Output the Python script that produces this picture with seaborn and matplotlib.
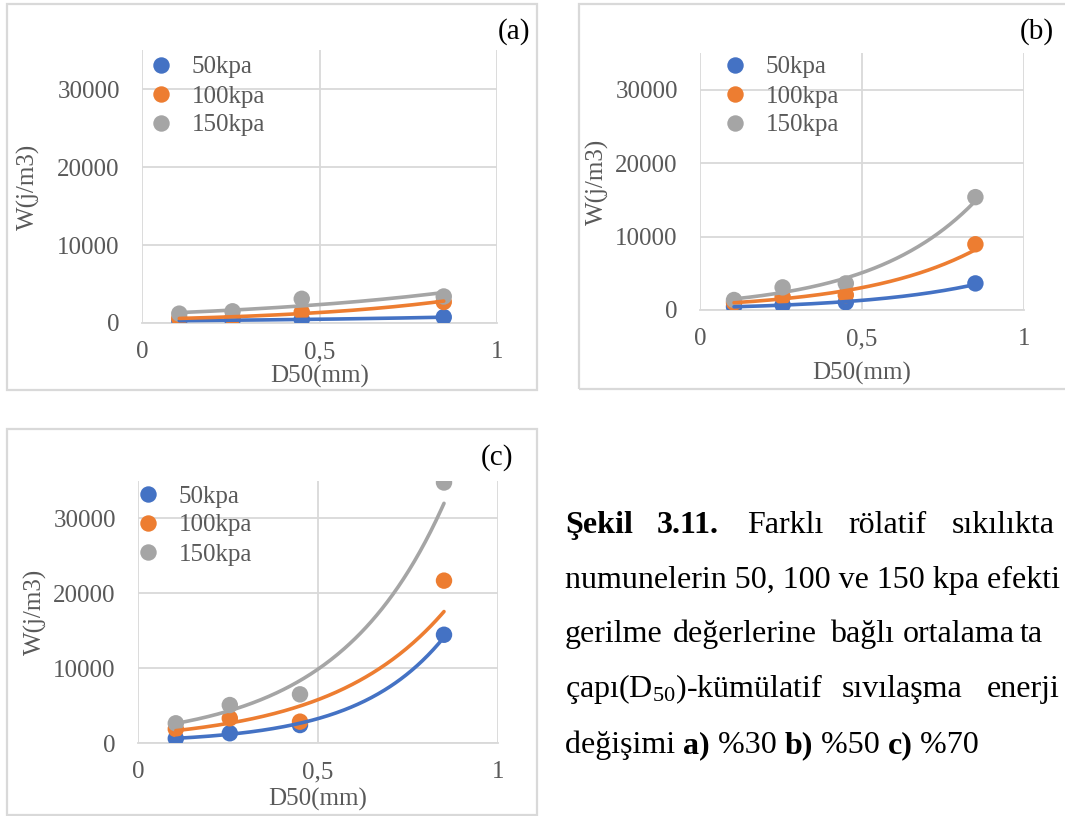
import numpy as np
import pandas as pd
import matplotlib
matplotlib.use("Agg")
import matplotlib.pyplot as plt
import seaborn as sns
from matplotlib.patches import Rectangle
from matplotlib.ticker import FixedLocator, FuncFormatter

# ---- data -----------------------------------------------------------
d50 = [0.105, 0.255, 0.45, 0.85]           # D50 (mm)
stress_labels = ["50kpa", "100kpa", "150kpa"]
y_ticks = [0, 10000, 20000, 30000]
x_ticks = [0, 0.5, 1]
x_tick_labels = ["0", "0,5", "1"]

# (a) Dr = %30
a_50 = [300, 350, 450, 750]
a_100 = [600, 700, 1400, 2700]
a_150 = [1200, 1500, 3100, 3400]
# (b) Dr = %50
b_50 = [450, 680, 1040, 3620]
b_100 = [1000, 1800, 2040, 8950]
b_150 = [1360, 3080, 3620, 15370]
# (c) Dr = %70
c_50 = [600, 1300, 2400, 14460]
c_100 = [1870, 3300, 2850, 21690]
c_150 = [2630, 5070, 6500, 34800]

colors = ["#4472C4", "#ED7D31", "#A5A5A5"]
grid_c = "#D9D9D9"
text_c = "#595959"

# ---- style ----------------------------------------------------------
sns.set_theme(style="white")
plt.rcParams["font.family"] = ["Liberation Serif", "DejaVu Serif"]
plt.rcParams["mathtext.fontset"] = "custom"
plt.rcParams["mathtext.rm"] = "Liberation Serif"
plt.rcParams["mathtext.it"] = "Liberation Serif:italic"
plt.rcParams["mathtext.bf"] = "Liberation Serif:bold"

W, H = 1065, 816
fig = plt.figure(figsize=(W / 100, H / 100), dpi=100)
fig.patch.set_facecolor("white")


def fx(px):
    return px / W


def fy(py):
    return 1 - py / H


def frame(x0, y0, x1, y1):
    fig.patches.append(Rectangle((fx(x0), fy(y1)), fx(x1) - fx(x0), fy(y0) - fy(y1),
                                 transform=fig.transFigure, fill=False,
                                 edgecolor=grid_c, linewidth=1.6, zorder=0))


def panel(box, series, tag, tag_xy, ylab_x, xlab_y, legend_xy):
    l, t, r, b = box
    ax = fig.add_axes([fx(l), fy(b), fx(r) - fx(l), fy(t) - fy(b)])
    df = pd.DataFrame({
        "D50": np.tile(d50, 3),
        "W": np.concatenate(series),
        "Gerilme": np.repeat(stress_labels, len(d50)),
    })
    sns.scatterplot(data=df, x="D50", y="W", hue="Gerilme", hue_order=stress_labels,
                    palette=colors, s=140, edgecolor="none", linewidth=0,
                    ax=ax, zorder=3, legend=True)
    # exponential trendlines fitted to each series
    xs = np.linspace(min(d50), max(d50), 200)
    for vals, col in zip(series, colors):
        k, c0 = np.polyfit(d50, np.log(vals), 1)
        fit = pd.DataFrame({"D50": xs, "W": np.exp(c0 + k * xs)})
        sns.lineplot(data=fit, x="D50", y="W", color=col, linewidth=2.6,
                     ax=ax, zorder=4)

    ax.set_xlim(0, 1)
    ax.set_ylim(0, 35000)
    ax.xaxis.set_major_locator(FixedLocator(x_ticks))
    ax.xaxis.set_major_formatter(FuncFormatter(
        lambda v, p: x_tick_labels[x_ticks.index(v)] if v in x_ticks else ""))
    ax.yaxis.set_major_locator(FixedLocator(y_ticks))
    ax.yaxis.set_major_formatter(FuncFormatter(lambda v, p: f"{int(v)}"))
    ax.grid(True, color=grid_c, linewidth=1.3)
    ax.set_axisbelow(True)
    for s in ["top", "right", "left"]:
        ax.spines[s].set_visible(False)
    ax.spines["bottom"].set_color(grid_c)
    ax.spines["bottom"].set_linewidth(1.3)
    ax.tick_params(axis="both", length=0, labelsize=18, labelcolor=text_c)
    ax.tick_params(axis="x", pad=13)
    ax.tick_params(axis="y", pad=16)

    ax.set_xlabel("D50(mm)", fontsize=18, color=text_c, va="center")
    ax.set_ylabel("W(j/m3)", fontsize=18, color=text_c, va="center")
    ax.xaxis.set_label_coords(0.5, xlab_y)
    ax.yaxis.set_label_coords(ylab_x, 0.5)

    sns.move_legend(ax, loc="upper left",
                    bbox_to_anchor=(fx(legend_xy[0]), fy(legend_xy[1])),
                    bbox_transform=fig.transFigure, title=None, frameon=False,
                    fontsize=18, labelspacing=0.26, handlelength=1.0,
                    handletextpad=0.75, borderpad=0, borderaxespad=0)
    for txt in ax.get_legend().get_texts():
        txt.set_color(text_c)

    fig.text(fx(tag_xy[0]), fy(tag_xy[1]), tag, fontsize=21, color="black",
             ha="right", va="center")
    return ax


# panel frames
frame(7, 4, 537, 390)
frame(579, 4, 1075, 389)
frame(7, 429, 537, 815)

panel((142, 50, 497, 323), [a_50, a_100, a_150], "(a)", (530, 32),
      -0.321, -0.196, (148, 56))
panel((700, 53, 1024, 310), [b_50, b_100, b_150], "(b)", (1054, 32),
      -0.316, -0.245, (722, 56))
panel((138, 481, 498, 743), [c_50, c_100, c_150], "(c)", (513, 458),
      -0.286, -0.215, (135, 485))

# ---- caption --------------------------------------------------------
cap_fs = 23
renderer = fig.canvas.get_renderer()


def words(items, y):
    for x, s, bold in items:
        fig.text(fx(x), fy(y), s, fontsize=cap_fs, color="black",
                 fontweight="bold" if bold else "normal", va="baseline", ha="left")


def run(parts, x, y):
    cur = fx(x)
    for s, bold in parts:
        t = fig.text(cur, fy(y), s, fontsize=cap_fs, color="black",
                     fontweight="bold" if bold else "normal", va="baseline", ha="left")
        bb = t.get_window_extent(renderer=renderer)
        cur += bb.width / W


# justified caption lines; the block runs to the right edge of the page
words([(565, "Şekil", True), (657, "3.11.", True), (747, "Farklı", False),
       (848, "rölatif", False), (952, "sıkılıkta", False)], 533)
words([(565, "numunelerin 50, 100 ve 150 kpa efekti", False)], 588)
words([(565, "gerilme", False), (673, "değerlerine", False), (830, "bağlı", False),
       (903, "ortalama", False), (1020, "ta", False)], 642)
words([(565, r"çapı(D$_{\mathrm{50}}$)-kümülatif", False), (842, "sıvılaşma", False),
       (987, "enerji", False)], 697)
run([("değişimi ", False), ("a)", True), (" %30 ", False), ("b)", True),
     (" %50 ", False), ("c)", True), (" %70", False)], 565, 753)

fig.savefig("out.png", dpi=100)
